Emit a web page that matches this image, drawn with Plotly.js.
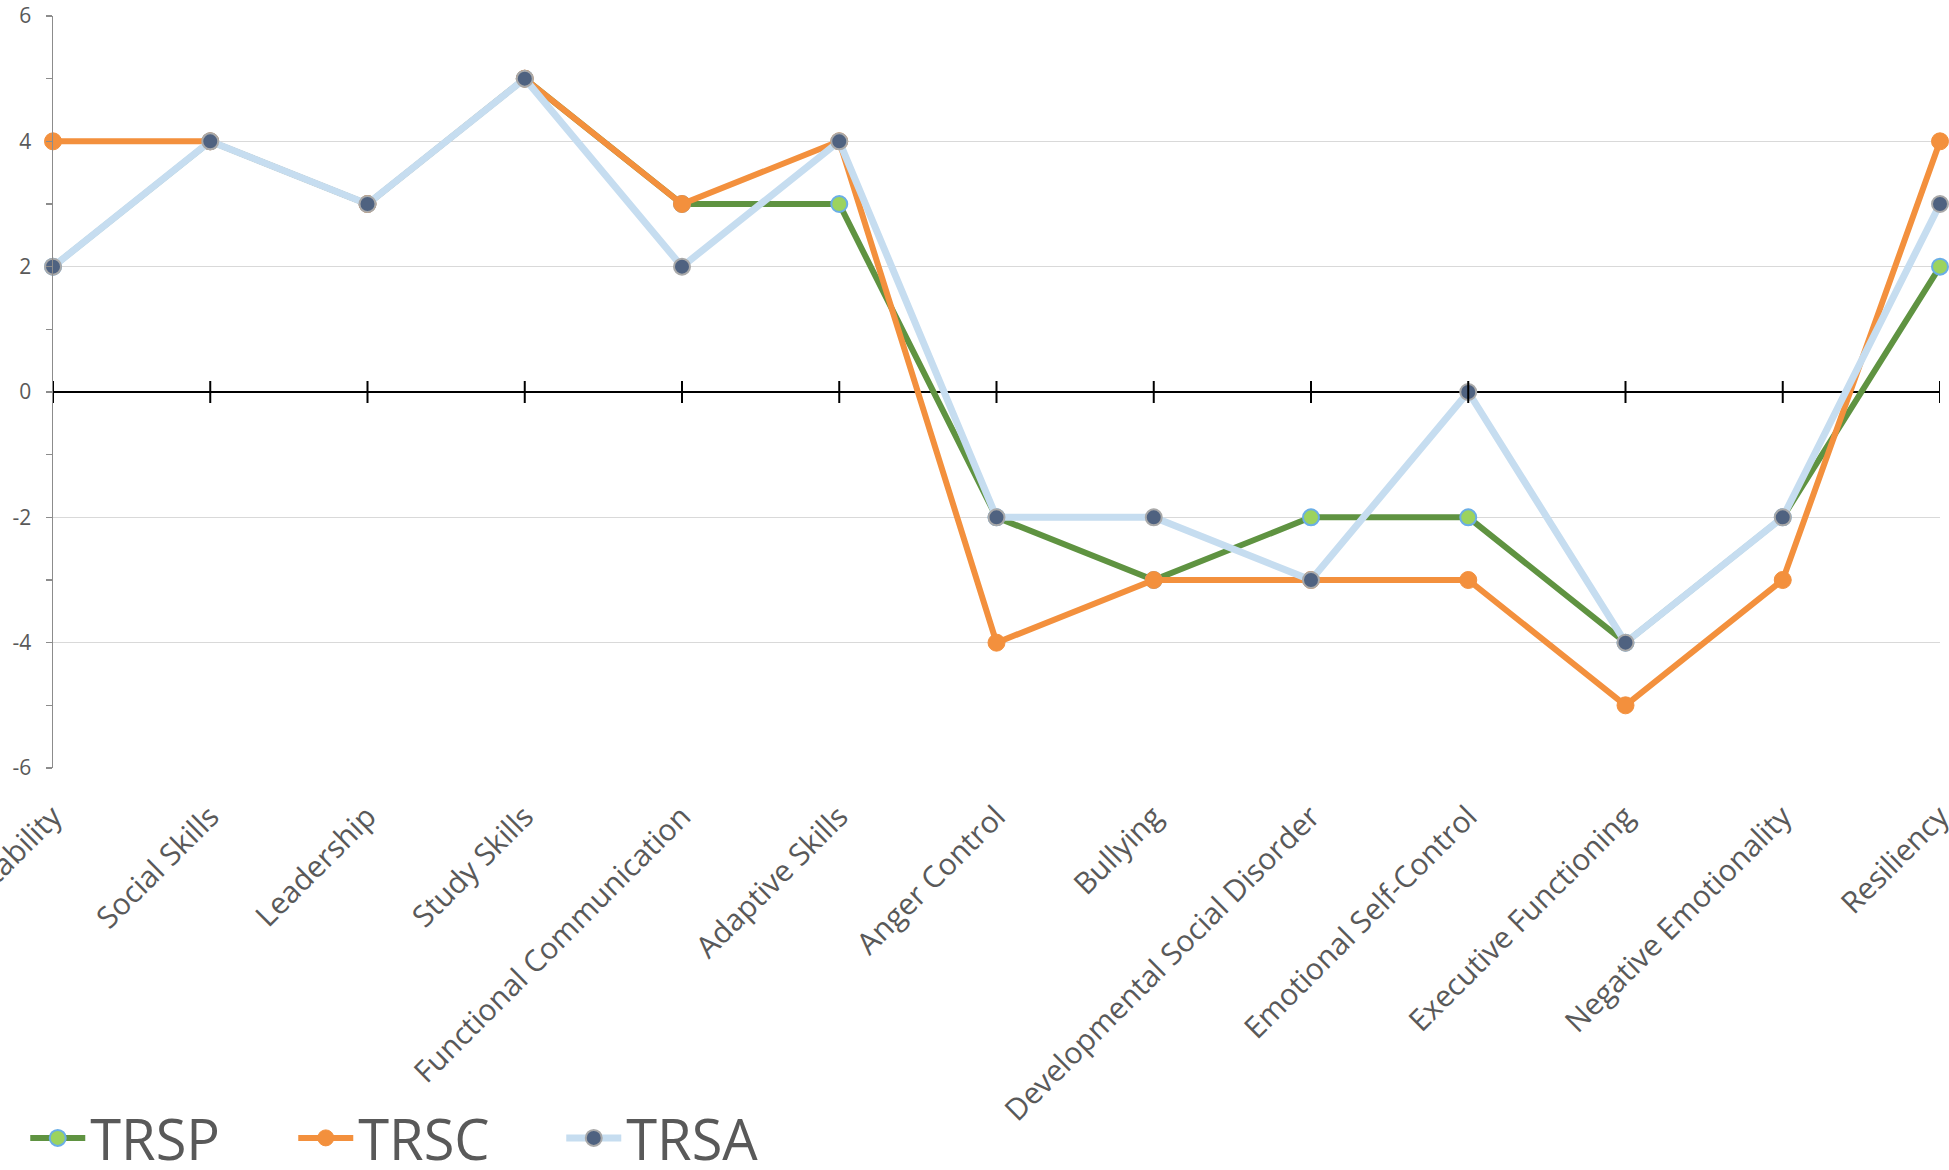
<!DOCTYPE html>
<html>
<head>
<meta charset="utf-8">
<script src="https://cdn.plot.ly/plotly-3.0.1.min.js"></script>
<style>
  html, body { margin: 0; padding: 0; background: #ffffff; }
  #chart { width: 1949px; height: 1170px; }
</style>
</head>
<body>
<div id="chart"></div>
<script>
// Scale categories
const categories = [
  'Adaptability', 'Social Skills', 'Leadership', 'Study Skills',
  'Functional Communication', 'Adaptive Skills', 'Anger Control', 'Bullying',
  'Developmental Social Disorder', 'Emotional Self-Control',
  'Executive Functioning', 'Negative Emotionality', 'Resiliency'
];

// Scores per rater
const trsp = [2, 4, 3, 5, 3, 3, -2, -3, -2, -2, -4, -2, 2];
const trsc = [4, 4, 3, 5, 3, 4, -4, -3, -3, -3, -5, -3, 4];
const trsa = [2, 4, 3, 5, 2, 4, -2, -2, -3, 0, -4, -2, 3];

const seriesNames = ['TRSP', 'TRSC', 'TRSA'];
const yTicks = [-6, -4, -2, 0, 2, 4, 6];
const yTickText = ['-6', '-4', '-2', '0', '2', '4', '6'];

const FONT = '"Open Sans", "Liberation Sans", sans-serif';
const TEXT = '#595959';

const traces = [
  {
    name: seriesNames[0], x: categories, y: trsp,
    type: 'scatter', mode: 'lines+markers', cliponaxis: false,
    line: { color: '#5F9341', width: 6 },
    marker: { color: '#9CD35E', size: 16, line: { color: '#6AAEE6', width: 2 } }
  },
  {
    name: seriesNames[1], x: categories, y: trsc,
    type: 'scatter', mode: 'lines+markers', cliponaxis: false,
    line: { color: '#F3903D', width: 6 },
    marker: { color: '#F3903D', size: 17, line: { color: '#F3903D', width: 1 } }
  },
  {
    name: seriesNames[2], x: categories, y: trsa,
    type: 'scatter', mode: 'lines+markers', cliponaxis: false,
    line: { color: '#C6DDF0', width: 7 },
    marker: { color: '#4F6280', size: 16, line: { color: '#A9A9A9', width: 2 } }
  }
];

// Cross ticks on the zero axis, one per category
const tickShapes = categories.map(c => ({
  type: 'line', xref: 'x', yref: 'y',
  ysizemode: 'pixel', yanchor: 0,
  x0: c, x1: c, y0: -11, y1: 11,
  line: { color: '#000000', width: 2 },
  layer: 'above'
}));

const layout = {
  width: 1949, height: 1170,
  margin: { l: 53, r: 9, t: 16, b: 402, autoexpand: false },
  paper_bgcolor: '#ffffff', plot_bgcolor: '#ffffff',
  font: { family: FONT, color: TEXT },
  showlegend: true,
  legend: {
    orientation: 'h',
    x: -0.0147, xanchor: 'left',
    y: -0.492, yanchor: 'middle',
    font: { family: FONT, size: 56, color: TEXT },
    entrywidth: 198, entrywidthmode: 'pixels',
    itemwidth: 55,
    bgcolor: 'rgba(0,0,0,0)'
  },
  xaxis: {
    type: 'category',
    categoryorder: 'array', categoryarray: categories,
    range: [0, categories.length - 1],
    automargin: false,
    showgrid: false, showline: false, zeroline: false,
    ticks: '',
    tickangle: -45,
    ticklabelstandoff: 24,
    tickfont: { family: FONT, size: 30, color: TEXT },
    fixedrange: true
  },
  yaxis: {
    range: [-6, 6],
    automargin: false,
    tickmode: 'array', tickvals: yTicks, ticktext: yTickText,
    showgrid: true, gridcolor: '#D9D9D9', gridwidth: 1.5,
    zeroline: true, zerolinecolor: '#000000', zerolinewidth: 2.5,
    showline: true, linecolor: '#8C8C8C', linewidth: 1.5,
    ticks: 'outside', ticklen: 6, tickcolor: '#8C8C8C', tickwidth: 1.5,
    minor: { dtick: 1, ticks: 'outside', ticklen: 6, tickcolor: '#8C8C8C', tickwidth: 1.5, showgrid: false },
    ticklabelstandoff: 10,
    tickfont: { family: FONT, size: 21, color: TEXT },
    fixedrange: true
  },
  shapes: tickShapes
};

Plotly.newPlot('chart', traces, layout, { displayModeBar: false, staticPlot: true });
</script>
</body>
</html>
